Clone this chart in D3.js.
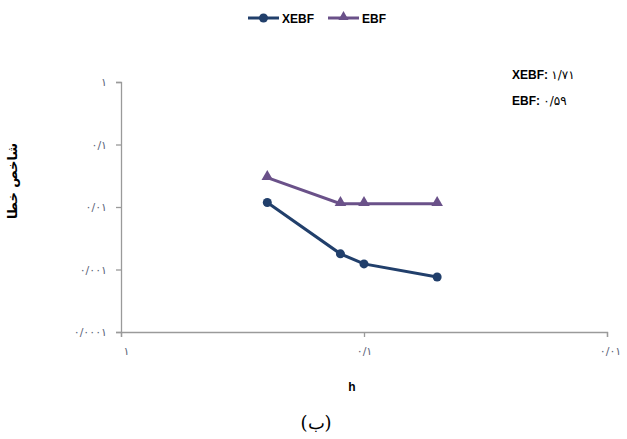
<!DOCTYPE html>
<html><head><meta charset="utf-8">
<script src="https://cdn.jsdelivr.net/npm/d3@7"></script>
<style>
body{margin:0;background:#fff;}
svg{display:block;}
</style></head>
<body>
<svg id="c" width="627" height="439"></svg>
<script>
const hValues = [0.25, 0.125, 0.1, 0.05];
const xebfValues = [0.0118, 0.00178, 0.00123, 0.00076];
const ebfValues = [0.0295, 0.0113, 0.0113, 0.0113];
const seriesNames = ["XEBF", "EBF"];
const yTicks = [1, 0.1, 0.01, 0.001, 0.0001];
const yTickLabels = ["۱", "۰/۱", "۰/۰۱", "۰/۰۰۱", "۰/۰۰۰۱"];
const xTicks = [1, 0.1, 0.01];
const xTickLabels = ["۱", "۰/۱", "۰/۰۱"];
const annotations = ["XEBF: ۱/۷۱", "EBF: ۰/۵۹"];
const yTitle = "شاخص خطا";
const xTitle = "h";
const caption = "(ب)";

const colors = {XEBF: "#213f6b", EBF: "#6a5189"};
const svg = d3.select("#c");
const x = d3.scaleLog().domain([1, 0.01]).range([121, 607]);
const y = d3.scaleLog().domain([0.0001, 1]).range([332, 82]);

const axisColor = "#9a9a9a";
const labelColor = "#5b6478";

const gy = svg.append("g").attr("transform", "translate(121,0)")
  .call(d3.axisLeft(y).tickValues(yTicks).tickSize(5).tickPadding(9)
    .tickFormat((d, i) => yTickLabels[i]));
const gx = svg.append("g").attr("transform", "translate(0,332)")
  .call(d3.axisBottom(x).tickValues(xTicks).tickSize(5).tickPadding(10)
    .tickFormat((d, i) => xTickLabels[i]));
[gx, gy].forEach(g => {
  g.select(".domain").attr("stroke", axisColor).attr("stroke-width", 1.3);
  g.selectAll(".tick line").attr("stroke", axisColor).attr("stroke-width", 1.3);
  g.selectAll(".tick text").attr("fill", labelColor)
    .style("font-family", "DejaVu Sans").style("font-size", "11px");
});
gx.selectAll(".tick text").attr("dx", (d, i) => i === 0 ? 5 : (i === 2 ? 3 : 0));

const seriesData = [
  {name: "XEBF", values: xebfValues},
  {name: "EBF", values: ebfValues}
];
const line = d3.line().x(d => x(d[0])).y(d => y(d[1]));
const tri = d3.symbol().type(d3.symbolTriangle).size(58);

seriesData.forEach(s => {
  const pts = hValues.map((h, i) => [h, s.values[i]]);
  svg.append("path").datum(pts).attr("d", line)
    .attr("fill", "none").attr("stroke", colors[s.name]).attr("stroke-width", 3);
  if (s.name === "XEBF") {
    svg.selectAll(null).data(pts).enter().append("circle")
      .attr("cx", d => x(d[0])).attr("cy", d => y(d[1])).attr("r", 4.5)
      .attr("fill", colors[s.name]);
  } else {
    svg.selectAll(null).data(pts).enter().append("path")
      .attr("d", tri)
      .attr("transform", d => `translate(${x(d[0])},${y(d[1]) - 1})`)
      .attr("fill", colors[s.name]);
  }
});

// legend
const leg = [{name: "XEBF", x0: 248}, {name: "EBF", x0: 328}];
leg.forEach(l => {
  svg.append("line").attr("x1", l.x0).attr("x2", l.x0 + 31).attr("y1", 18).attr("y2", 18)
    .attr("stroke", colors[l.name]).attr("stroke-width", 3);
  if (l.name === "XEBF") {
    svg.append("circle").attr("cx", l.x0 + 15.5).attr("cy", 18).attr("r", 4.5).attr("fill", colors[l.name]);
  } else {
    svg.append("path").attr("d", d3.symbol().type(d3.symbolTriangle).size(45))
      .attr("transform", `translate(${l.x0 + 15.5},17)`).attr("fill", colors[l.name]);
  }
  svg.append("text").attr("x", l.x0 + 34).attr("y", 22.5).text(l.name)
    .style("font-family", "Liberation Sans Narrow, Liberation Sans, sans-serif")
    .style("font-weight", "bold").style("font-size", "12px").attr("fill", "#000");
});

// annotations
annotations.forEach((a, i) => {
  const parts = a.split(": ");
  const t = svg.append("text").attr("x", 512).attr("y", 79 + i * 26)
    .style("font-size", "12px").attr("fill", "#000");
  t.append("tspan").text(parts[0] + ": ")
    .style("font-family", "Liberation Sans, sans-serif").style("font-weight", "bold");
  t.append("tspan").text(parts[1])
    .style("font-family", "DejaVu Sans").style("font-size", "12px");
});

// axis titles
svg.append("text").attr("transform", "translate(17,181) rotate(-90)")
  .attr("text-anchor", "middle").text(yTitle)
  .style("font-family", "DejaVu Sans").style("font-weight", "bold").style("font-size", "13px");
svg.append("text").attr("x", 352).attr("y", 391).attr("text-anchor", "middle").text(xTitle)
  .style("font-family", "Liberation Sans, sans-serif").style("font-weight", "bold").style("font-size", "12px");
svg.append("text").attr("x", 316).attr("y", 429).attr("text-anchor", "middle").text(caption)
  .style("font-family", "DejaVu Serif, serif").style("font-size", "18px");
</script>
</body></html>
